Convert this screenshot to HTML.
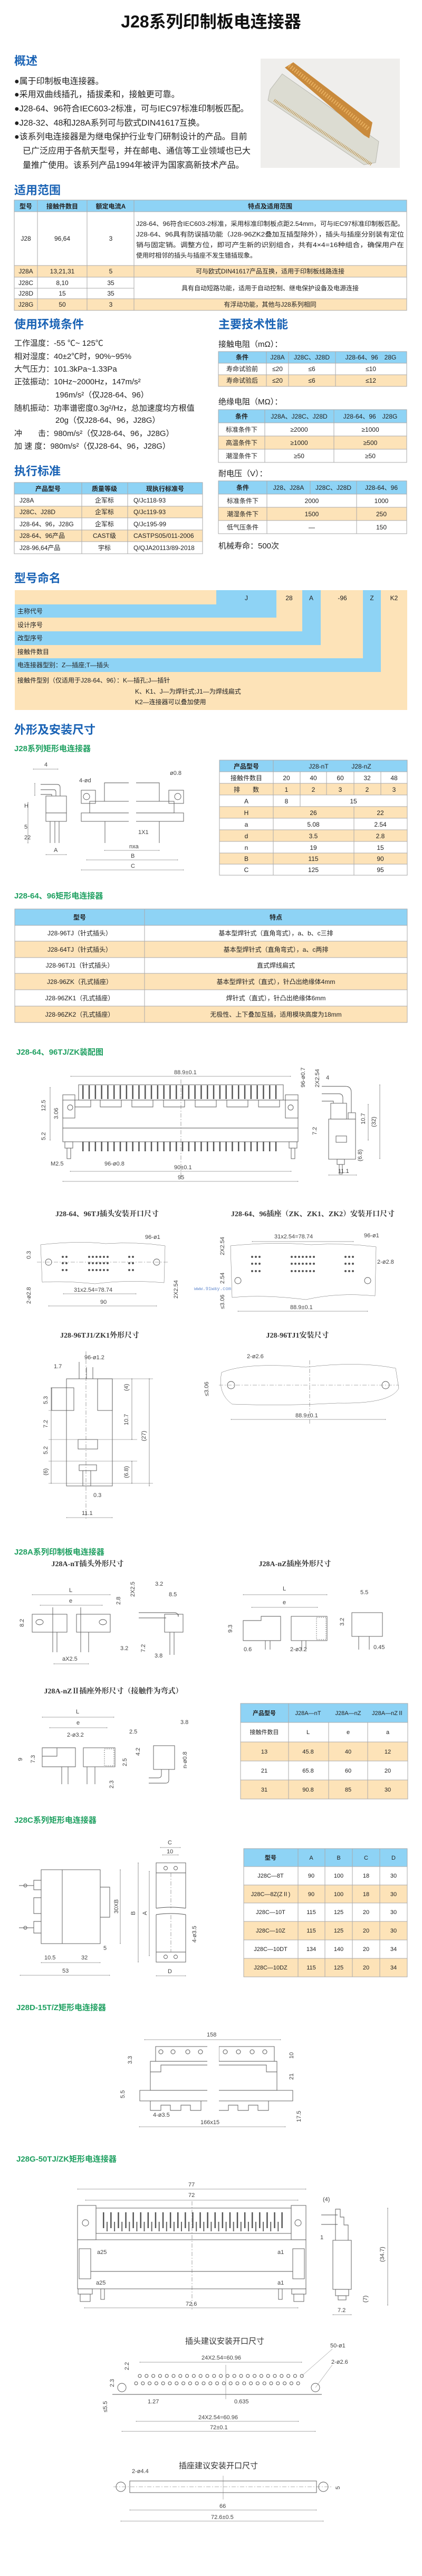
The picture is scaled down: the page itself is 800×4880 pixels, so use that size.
<!DOCTYPE html>
<html><head><meta charset="utf-8"><style>
html,body{margin:0;padding:0;background:#fff;}
svg{display:block;}
text{font-family:"Liberation Sans","Noto Sans CJK SC",sans-serif;}
.h{font-size:22px;font-weight:bold;fill:#1a63b5;}
.g{font-size:15px;font-weight:bold;fill:#1fa061;}
.b{font-size:16px;fill:#222;}
.t{font-size:12px;fill:#222;}
.c{font-size:13px;fill:#222;font-weight:bold;}
.m{font-size:11px;fill:#444;}
.L{stroke:#555;stroke-width:0.9;fill:none;}
.D{stroke:#555;stroke-width:0.6;fill:none;marker-start:url(#a);marker-end:url(#a);}
.E{stroke:#666;stroke-width:0.5;fill:none;}
.K{stroke:#666;stroke-width:0.6;fill:none;stroke-dasharray:8 3 2 3;}
.bl{fill:#8ed3f5;}
.or{fill:#fde3b8;}
.gr{stroke:#aaa;stroke-width:1;fill:none;}
</style></head><body>
<svg width="800" height="4880" viewBox="0 0 800 4880" xmlns="http://www.w3.org/2000/svg">
<defs>
<marker id="a" viewBox="0 0 10 10" refX="5" refY="5" markerWidth="4" markerHeight="4" orient="auto-start-reverse"><path d="M0,2 L10,5 L0,8z" fill="#555"/></marker>
</defs>
<rect width="800" height="4880" fill="#fff"/>

<!-- Title -->
<text x="400" y="52" text-anchor="middle" style="font-size:32px;font-weight:bold;fill:#111;">J28系列印制板电连接器</text>

<!-- 概述 -->
<text x="27" y="123" class="h">概述</text>
<g class="b">
<text x="27" y="159">●属于印制板电连接器。</text>
<text x="27" y="184">●采用双曲线插孔，插拔柔和，接触更可靠。</text>
<text x="27" y="211">●J28-64、96符合IEC603-2标准，可与IEC97标准印制板匹配。</text>
<text x="27" y="238">●J28-32、48和J28A系列可与欧式DIN41617互换。</text>
<text x="27" y="264">●该系列电连接器是为继电保护行业专门研制设计的产品。目前</text>
<text x="43" y="291">已广泛应用于各航天型号，并在邮电、通信等工业领域也已大</text>
<text x="43" y="318">量推广使用。该系列产品1994年被评为国家高新技术产品。</text>
</g>
<!-- photo -->
<rect x="494" y="111" width="264" height="207" fill="#efeeec"/>
<polygon points="512,170 535,140 718,268 712,308 690,312 508,190" fill="#dcdcd2" stroke="#b8b8b0"/>
<polygon points="540,128 556,118 706,232 700,262 690,256" fill="#c98a3c"/>
<line x1="548" y1="124" x2="700" y2="245" stroke="#e8b060" stroke-width="8" stroke-dasharray="2 3"/>
<line x1="520" y1="190" x2="705" y2="312" stroke="#b88a3c" stroke-width="6" stroke-dasharray="1 2"/>

<!-- 适用范围 -->
<text x="27" y="368" class="h">适用范围</text>
<rect x="27" y="379" width="744" height="22" class="bl"/>
<rect x="27" y="503" width="744" height="22" class="or"/>
<rect x="27" y="566" width="744" height="22" class="or"/>
<g class="gr">
<rect x="27" y="379" width="744" height="209"/>
<line x1="27" y1="401" x2="771" y2="401"/><line x1="27" y1="503" x2="771" y2="503"/>
<line x1="27" y1="525" x2="771" y2="525"/><line x1="27" y1="546" x2="254" y2="546"/>
<line x1="27" y1="566" x2="771" y2="566"/>
<line x1="71" y1="379" x2="71" y2="588"/><line x1="165" y1="379" x2="165" y2="588"/><line x1="254" y1="379" x2="254" y2="588"/>
</g>
<g class="t" text-anchor="middle">
<text x="49" y="395" class="c" style="font-size:12px">型号</text><text x="118" y="395" class="c" style="font-size:12px">接触件数目</text><text x="210" y="395" class="c" style="font-size:12px">额定电流A</text><text x="512" y="395" class="c" style="font-size:12px">特点及适用范围</text>
<text x="49" y="456">J28</text><text x="118" y="456">96,64</text><text x="210" y="456">3</text>
<text x="49" y="518">J28A</text><text x="118" y="518">13,21,31</text><text x="210" y="518">5</text><text x="512" y="518">可与欧式DIN41617产品互换，适用于印制板线路连接</text>
<text x="49" y="540">J28C</text><text x="118" y="540">8,10</text><text x="210" y="540">35</text>
<text x="49" y="560">J28D</text><text x="118" y="560">15</text><text x="210" y="560">35</text>
<text x="512" y="550">具有自动短路功能，适用于自动控制、继电保护设备及电源连接</text>
<text x="49" y="581">J28G</text><text x="118" y="581">50</text><text x="210" y="581">3</text><text x="512" y="581">有浮动功能，其他与J28系列相同</text>
</g>
<g class="t">
<text x="258" y="428" textLength="508" lengthAdjust="spacingAndGlyphs">J28-64、96符合IEC603-2标准，采用标准印制板点距2.54mm，可与IEC97标准印制板匹配。</text>
<text x="258" y="448" textLength="508" lengthAdjust="spacingAndGlyphs">J28-64、96具有防误插功能（J28-96ZK2叠加互插型除外），插头与插座分别装有定位</text>
<text x="258" y="468" textLength="508" lengthAdjust="spacingAndGlyphs">销与固定销。调整方位，即可产生新的识别组合，共有4×4=16种组合，确保用户在</text>
<text x="258" y="488">使用时相邻的插头与插座不发生错插现象。</text>
</g>

<!-- 使用环境条件 -->
<text x="27" y="622" class="h">使用环境条件</text>
<text x="414" y="622" class="h">主要技术性能</text>
<g class="b" style="font-size:15px">
<text x="27" y="655">工作温度：-55 ℃~ 125℃</text>
<text x="27" y="680">相对湿度：40±2℃时，90%~95%</text>
<text x="27" y="704">大气压力：101.3kPa~1.33Pa</text>
<text x="27" y="728">正弦振动：10Hz~2000Hz，147m/s²</text>
<text x="105" y="753">196m/s²（仅J28-64、96）</text>
<text x="27" y="778">随机振动：功率谱密度0.3g²/Hz，总加速度均方根值</text>
<text x="105" y="801">20g（仅J28-64、96，J28G）</text>
<text x="27" y="826">冲　　击：980m/s²（仅J28-64、96，J28G）</text>
<text x="27" y="850">加 速 度：980m/s²（仅J28-64、96，J28G）</text>
<text x="414" y="657">接触电阻（mΩ）：</text>
<text x="414" y="766">绝缘电阻（MΩ）：</text>
<text x="414" y="902">耐电压（V）：</text>
<text x="414" y="1039">机械寿命：500次</text>
</g>
<!-- tech table 1 -->
<rect x="414" y="666" width="357" height="22" class="bl"/>
<rect x="414" y="710" width="357" height="22" class="or"/>
<g class="gr"><rect x="414" y="666" width="357" height="66"/>
<line x1="414" y1="688" x2="771" y2="688"/><line x1="414" y1="710" x2="771" y2="710"/>
<line x1="505" y1="666" x2="505" y2="732"/><line x1="547" y1="666" x2="547" y2="732"/><line x1="636" y1="666" x2="636" y2="732"/></g>
<g class="t" text-anchor="middle">
<text x="459" y="681" class="c" style="font-size:12px">条件</text><text x="526" y="681">J28A</text><text x="591" y="681">J28C、J28D</text><text x="703" y="681">J28-64、96　28G</text>
<text x="459" y="703">寿命试验前</text><text x="526" y="703">≤20</text><text x="591" y="703">≤6</text><text x="703" y="703">≤10</text>
<text x="459" y="725">寿命试验后</text><text x="526" y="725">≤20</text><text x="591" y="725">≤6</text><text x="703" y="725">≤12</text>
</g>
<!-- tech table 2 -->
<rect x="414" y="776" width="357" height="25" class="bl"/>
<rect x="414" y="826" width="357" height="25" class="or"/>
<g class="gr"><rect x="414" y="776" width="357" height="100"/>
<line x1="414" y1="801" x2="771" y2="801"/><line x1="414" y1="826" x2="771" y2="826"/><line x1="414" y1="851" x2="771" y2="851"/>
<line x1="502" y1="776" x2="502" y2="876"/><line x1="633" y1="776" x2="633" y2="876"/></g>
<g class="t" text-anchor="middle">
<text x="458" y="793" class="c" style="font-size:12px">条件</text><text x="567" y="793">J28A、J28C、J28D</text><text x="702" y="793">J28-64、96　J28G</text>
<text x="458" y="818">标准条件下</text><text x="567" y="818">≥2000</text><text x="702" y="818">≥1000</text>
<text x="458" y="843">高温条件下</text><text x="567" y="843">≥1000</text><text x="702" y="843">≥500</text>
<text x="458" y="868">潮湿条件下</text><text x="567" y="868">≥50</text><text x="702" y="868">≥50</text>
</g>
<!-- tech table 3 -->
<rect x="414" y="911" width="357" height="25" class="bl"/>
<rect x="414" y="961" width="357" height="25" class="or"/>
<g class="gr"><rect x="414" y="911" width="357" height="100"/>
<line x1="414" y1="936" x2="771" y2="936"/><line x1="414" y1="961" x2="771" y2="961"/><line x1="414" y1="986" x2="771" y2="986"/>
<line x1="506" y1="911" x2="506" y2="1011"/><line x1="588" y1="911" x2="588" y2="936"/><line x1="676" y1="911" x2="676" y2="1011"/></g>
<g class="t" text-anchor="middle">
<text x="460" y="928" class="c" style="font-size:12px">条件</text><text x="547" y="928">J28、J28A</text><text x="632" y="928">J28C、J28D</text><text x="723" y="928">J28-64、96</text>
<text x="460" y="953">标准条件下</text><text x="591" y="953">2000</text><text x="723" y="953">1000</text>
<text x="460" y="978">潮湿条件下</text><text x="591" y="978">1500</text><text x="723" y="978">250</text>
<text x="460" y="1003">低气压条件</text><text x="591" y="1003">—</text><text x="723" y="1003">150</text>
</g>

<!-- 执行标准 -->
<text x="27" y="900" class="h">执行标准</text>
<rect x="27" y="914" width="357" height="22" class="bl"/>
<rect x="27" y="959" width="357" height="22" class="or"/>
<rect x="27" y="1004" width="357" height="22" class="or"/>
<g class="gr"><rect x="27" y="914" width="357" height="135"/>
<line x1="27" y1="936" x2="384" y2="936"/><line x1="27" y1="959" x2="384" y2="959"/><line x1="27" y1="981" x2="384" y2="981"/><line x1="27" y1="1004" x2="384" y2="1004"/><line x1="27" y1="1026" x2="384" y2="1026"/>
<line x1="155" y1="914" x2="155" y2="1049"/><line x1="242" y1="914" x2="242" y2="1049"/></g>
<g class="t">
<text x="91" y="930" text-anchor="middle" class="c" style="font-size:12px">产品型号</text><text x="198" y="930" text-anchor="middle" class="c" style="font-size:12px">质量等级</text><text x="313" y="930" text-anchor="middle" class="c" style="font-size:12px">现执行标准号</text>
<text x="37" y="952">J28A</text><text x="198" y="952" text-anchor="middle">企军标</text><text x="253" y="952">Q/Jc118-93</text>
<text x="37" y="974">J28C、J28D</text><text x="198" y="974" text-anchor="middle">企军标</text><text x="253" y="974">Q/Jc119-93</text>
<text x="37" y="997">J28-64、96，J28G</text><text x="198" y="997" text-anchor="middle">企军标</text><text x="253" y="997">Q/Jc195-99</text>
<text x="37" y="1019">J28-64、96产品</text><text x="198" y="1019" text-anchor="middle">CAST级</text><text x="253" y="1019">CASTPS05/011-2006</text>
<text x="37" y="1042">J28-96,64产品</text><text x="198" y="1042" text-anchor="middle">宇标</text><text x="253" y="1042">Q/QJA20113/89-2018</text>
</g>

<!-- 型号命名 -->
<text x="27" y="1103" class="h">型号命名</text>
<rect x="28" y="1118" width="744" height="227" class="or"/>
<rect x="410" y="1118" width="114" height="52" class="bl"/>
<rect x="28" y="1145" width="496" height="25" class="bl"/>
<rect x="573" y="1118" width="35" height="104" class="bl"/>
<rect x="28" y="1196" width="580" height="26" class="bl"/>
<rect x="688" y="1118" width="34" height="155" class="bl"/>
<rect x="28" y="1247" width="694" height="26" class="bl"/>
<g class="t" text-anchor="middle">
<text x="467" y="1137">J</text><text x="548" y="1137">28</text><text x="590" y="1137">A</text><text x="649" y="1137">-96</text><text x="705" y="1137">Z</text><text x="747" y="1137">K2</text>
</g>
<g class="t">
<text x="33" y="1162">主称代号</text><text x="33" y="1188">设计序号</text><text x="33" y="1213">改型序号</text><text x="33" y="1239">接触件数目</text>
<text x="33" y="1264">电连接器型别：Z—插座;T—插头</text>
<text x="33" y="1293">接触件型别（仅适用于J28-64、96）：K—插孔;J—插针</text>
<text x="256" y="1314">K、K1、J—为焊针式;J1—为焊线扁式</text>
<text x="256" y="1334">K2—连接器可以叠加使用</text>
</g>

<!-- 外形及安装尺寸 -->
<text x="27" y="1390" class="h">外形及安装尺寸</text>
<text x="27" y="1423" class="g">J28系列矩形电连接器</text>
<!-- drawing 1 -->
<g>
<rect x="87" y="1508" width="39" height="48" class="L"/>
<line x1="87" y1="1540" x2="126" y2="1540" class="L"/>
<path d="M77,1486 H108 Q114,1486 114,1492 V1508 M77,1496 H102 Q106,1496 106,1500 V1508 M77,1505 H98 V1508" class="L"/>
<line x1="95" y1="1556" x2="95" y2="1597" class="L"/><line x1="104" y1="1556" x2="104" y2="1597" class="L"/><line x1="112" y1="1556" x2="112" y2="1597" class="L"/>
<line x1="53" y1="1520" x2="53" y2="1597" class="D"/>
<line x1="66" y1="1484" x2="66" y2="1507" class="D"/>
<line x1="87" y1="1619" x2="126" y2="1619" class="D"/>
<line x1="63" y1="1457" x2="110" y2="1457" class="D"/>
<text x="84" y="1452" class="m">4</text><text x="102" y="1614" class="m">A</text>
<text x="46" y="1570" class="m">5</text><text x="46" y="1590" class="m">22</text><text x="46" y="1530" class="m">H</text>
<rect x="154" y="1497" width="27" height="25" class="L"/><circle cx="164" cy="1509" r="6" class="L"/>
<rect x="320" y="1497" width="28" height="25" class="L"/><circle cx="337" cy="1509" r="6" class="L"/>
<rect x="170" y="1518" width="160" height="22" class="L"/>
<rect x="154" y="1540" width="194" height="16" class="L"/>
<path d="M198,1518 V1483 H302 V1518" class="L"/>
<line x1="199" y1="1556" x2="199" y2="1597" class="L"/><line x1="302" y1="1556" x2="302" y2="1597" class="L"/>
<rect x="244" y="1480" width="14" height="80" fill="#fff"/>
<text x="150" y="1482" class="m">4-ød</text><text x="322" y="1468" class="m">ø0.8</text><text x="262" y="1580" class="m">1X1</text>
<line x1="198" y1="1611" x2="302" y2="1611" class="D"/><text x="245" y="1607" class="m">nxa</text>
<line x1="164" y1="1629" x2="337" y2="1629" class="D"/><text x="248" y="1625" class="m">B</text>
<line x1="154" y1="1648" x2="348" y2="1648" class="D"/><text x="248" y="1644" class="m">C</text>
</g>
<!-- table J28 -->
<rect x="416" y="1440" width="356" height="22" class="bl"/>
<rect x="416" y="1484" width="356" height="22" class="or"/>
<rect x="416" y="1528" width="356" height="22" class="or"/>
<rect x="416" y="1572" width="356" height="22" class="or"/>
<rect x="416" y="1616" width="356" height="21" class="or"/>
<g class="gr"><rect x="416" y="1440" width="356" height="218"/>
<line x1="416" y1="1462" x2="772" y2="1462"/><line x1="416" y1="1484" x2="772" y2="1484"/><line x1="416" y1="1506" x2="772" y2="1506"/><line x1="416" y1="1528" x2="772" y2="1528"/><line x1="416" y1="1550" x2="772" y2="1550"/><line x1="416" y1="1572" x2="772" y2="1572"/><line x1="416" y1="1594" x2="772" y2="1594"/><line x1="416" y1="1616" x2="772" y2="1616"/><line x1="416" y1="1637" x2="772" y2="1637"/>
<line x1="518" y1="1440" x2="518" y2="1658"/><line x1="569" y1="1462" x2="569" y2="1528"/><line x1="619" y1="1462" x2="619" y2="1506"/><line x1="671" y1="1462" x2="671" y2="1506"/><line x1="671" y1="1528" x2="671" y2="1658"/><line x1="722" y1="1462" x2="722" y2="1506"/></g>
<g class="t" text-anchor="middle">
<text x="467" y="1456" class="c" style="font-size:12px">产品型号</text><text x="604" y="1456">J28-nT</text><text x="685" y="1456">J28-nZ</text>
<text x="467" y="1478">接触件数目</text><text x="543" y="1478">20</text><text x="594" y="1478">40</text><text x="645" y="1478">60</text><text x="696" y="1478">32</text><text x="747" y="1478">48</text>
<text x="467" y="1500">排　　数</text><text x="543" y="1500">1</text><text x="594" y="1500">2</text><text x="645" y="1500">3</text><text x="696" y="1500">2</text><text x="747" y="1500">3</text>
<text x="467" y="1522">A</text><text x="543" y="1522">8</text><text x="670" y="1522">15</text>
<text x="467" y="1544">H</text><text x="594" y="1544">26</text><text x="721" y="1544">22</text>
<text x="467" y="1566">a</text><text x="594" y="1566">5.08</text><text x="721" y="1566">2.54</text>
<text x="467" y="1588">d</text><text x="594" y="1588">3.5</text><text x="721" y="1588">2.8</text>
<text x="467" y="1610">n</text><text x="594" y="1610">19</text><text x="721" y="1610">15</text>
<text x="467" y="1631">B</text><text x="594" y="1631">115</text><text x="721" y="1631">90</text>
<text x="467" y="1652">C</text><text x="594" y="1652">125</text><text x="721" y="1652">95</text>
</g>

<!-- J28-64,96 -->
<text x="27" y="1702" class="g">J28-64、96矩形电连接器</text>
<rect x="28" y="1722" width="744" height="31" class="bl"/>
<rect x="28" y="1783" width="744" height="31" class="or"/>
<rect x="28" y="1844" width="744" height="31" class="or"/>
<rect x="28" y="1906" width="744" height="31" class="or"/>
<g class="gr"><rect x="28" y="1722" width="744" height="215"/>
<line x1="28" y1="1753" x2="772" y2="1753"/><line x1="28" y1="1783" x2="772" y2="1783"/><line x1="28" y1="1814" x2="772" y2="1814"/><line x1="28" y1="1844" x2="772" y2="1844"/><line x1="28" y1="1875" x2="772" y2="1875"/><line x1="28" y1="1906" x2="772" y2="1906"/>
<line x1="274" y1="1722" x2="274" y2="1937"/></g>
<g class="t" text-anchor="middle">
<text x="151" y="1742" class="c" style="font-size:12px">型号</text><text x="523" y="1742" class="c" style="font-size:12px">特点</text>
<text x="151" y="1772">J28-96TJ（针式插头）</text><text x="523" y="1772">基本型焊针式（直角弯式），a、b、c三排</text>
<text x="151" y="1803">J28-64TJ（针式插头）</text><text x="523" y="1803">基本型焊针式（直角弯式），a、c两排</text>
<text x="151" y="1833">J28-96TJ1（针式插头）</text><text x="523" y="1833">直式焊线扁式</text>
<text x="151" y="1864">J28-96ZK（孔式插座）</text><text x="523" y="1864">基本型焊针式（直式），针凸出绝缘体4mm</text>
<text x="151" y="1895">J28-96ZK1（孔式插座）</text><text x="523" y="1895">焊针式（直式），针凸出绝缘体6mm</text>
<text x="151" y="1926">J28-96ZK2（孔式插座）</text><text x="523" y="1926">无极性、上下叠加互插，适用模块高度为18mm</text>
</g>

<text x="31" y="1998" class="g">J28-64、96TJ/ZK装配图</text>
<!-- drawing 2 -->
<g>
<rect x="149" y="2055" width="388" height="29" class="L"/>
<line x1="156" y1="2069" x2="532" y2="2069" stroke="#555" stroke-width="26" stroke-dasharray="2.5 9.3"/>
<rect x="119" y="2084" width="446" height="79" class="L"/>
<line x1="119" y1="2137" x2="565" y2="2137" class="L"/>
<rect x="119" y="2074" width="23" height="44" class="L"/><circle cx="133" cy="2098" r="5" class="L"/>
<rect x="541" y="2074" width="24" height="44" class="L"/><circle cx="551" cy="2098" r="5" class="L"/>
<path d="M142,2084 v13 h30 v-13 M190,2084 v13 h40 v-13 M250,2084 v13 h40 v-13 M310,2084 v13 h40 v-13 M370,2084 v13 h40 v-13 M430,2084 v13 h40 v-13 M490,2084 v13 h40 v-13" class="L"/>
<line x1="156" y1="2172" x2="532" y2="2172" stroke="#555" stroke-width="18" stroke-dasharray="2.5 9.3"/>
<rect x="123" y="2163" width="15" height="12" class="L"/><rect x="127" y="2175" width="7" height="20" class="L"/>
<rect x="548" y="2163" width="15" height="12" class="L"/><rect x="552" y="2175" width="7" height="20" class="L"/>
<line x1="343" y1="2045" x2="343" y2="2235" class="K"/>
<line x1="134" y1="2039" x2="551" y2="2039" class="D"/><text x="330" y="2035" class="m">88.9±0.1</text>
<line x1="133" y1="2219" x2="552" y2="2219" class="D"/><text x="330" y="2215" class="m">90±0.1</text>
<line x1="119" y1="2238" x2="565" y2="2238" class="D"/><text x="337" y="2234" class="m">95</text>
<text x="96" y="2208" class="m">M2.5</text><text x="198" y="2208" class="m">96-ø0.8</text>
<line x1="95" y1="2060" x2="95" y2="2160" class="D"/>
<text x="86" y="2105" class="m" transform="rotate(-90 86 2105)">12.5</text>
<text x="110" y="2120" class="m" transform="rotate(-90 110 2120)">3.06</text>
<text x="86" y="2160" class="m" transform="rotate(-90 86 2160)">5.2</text>
<!-- side -->
<rect x="623" y="2120" width="51" height="76" class="L"/>
<rect x="627" y="2090" width="30" height="30" class="L"/>
<rect x="660" y="2108" width="14" height="12" class="L"/>
<rect x="637" y="2152" width="20" height="12" class="L"/>
<path d="M610,2058 H655 Q666,2058 666,2070 V2108 M610,2072 H642 Q650,2072 650,2080 V2090 M610,2086 H632 V2090" class="L"/>
<rect x="639" y="2196" width="14" height="10" class="L"/><rect x="643" y="2206" width="6" height="18" class="L"/>
<line x1="720" y1="2055" x2="720" y2="2195" class="D"/><text x="712" y="2135" class="m" transform="rotate(-90 712 2135)">(32)</text>
<line x1="698" y1="2092" x2="698" y2="2160" class="D"/><text x="692" y="2130" class="m" transform="rotate(-90 692 2130)">10.7</text>
<text x="686" y="2200" class="m" transform="rotate(-90 686 2200)">(6.8)</text>
<line x1="623" y1="2226" x2="676" y2="2226" class="D"/><text x="641" y="2222" class="m">11.1</text>
<text x="618" y="2045" class="m">4</text>
<text x="578" y="2060" class="m" transform="rotate(-90 578 2060)">96-ø0.7</text>
<text x="605" y="2060" class="m" transform="rotate(-90 605 2060)">2X2.54</text>
<text x="600" y="2150" class="m" transform="rotate(-90 600 2150)">7.2</text>
<text x="634" y="2309" class="m"></text>
</g>

<!-- cutouts -->
<g style="font-family:'Liberation Serif','Noto Serif CJK SC',serif;font-size:14px;font-weight:bold;fill:#333" text-anchor="middle">
<text x="203" y="2304" style="font-family:'Liberation Serif','Noto Serif CJK SC',serif">J28-64、96TJ插头安装开口尺寸</text>
<text x="593" y="2304" style="font-family:'Liberation Serif','Noto Serif CJK SC',serif">J28-64、96插座（ZK、ZK1、ZK2）安装开口尺寸</text>
<text x="189" y="2534" style="font-family:'Liberation Serif','Noto Serif CJK SC',serif">J28-96TJ1/ZK1外形尺寸</text>
<text x="564" y="2534" style="font-family:'Liberation Serif','Noto Serif CJK SC',serif">J28-96TJ1安装尺寸</text>
<text x="166" y="2967" style="font-family:'Liberation Serif','Noto Serif CJK SC',serif">J28A-nT插头外形尺寸</text>
<text x="559" y="2967" style="font-family:'Liberation Serif','Noto Serif CJK SC',serif">J28A-nZ插座外形尺寸</text>
<text x="215" y="3208" style="font-family:'Liberation Serif','Noto Serif CJK SC',serif">J28A-nZⅡ插座外形尺寸（接触件为弯式）</text>
</g>
<g>
<path d="M77,2358 Q150,2350 200,2356 Q260,2352 313,2360 L311,2430 Q240,2424 180,2432 Q120,2426 80,2429 Z" class="E"/>
<g stroke="#555" stroke-width="4" stroke-linecap="round" stroke-dasharray="0 7">
<line x1="119" y1="2381" x2="133" y2="2381"/><line x1="119" y1="2393" x2="133" y2="2393"/><line x1="119" y1="2406" x2="133" y2="2406"/>
<line x1="169" y1="2381" x2="210" y2="2381"/><line x1="169" y1="2393" x2="210" y2="2393"/><line x1="169" y1="2406" x2="210" y2="2406"/>
<line x1="245" y1="2381" x2="259" y2="2381"/><line x1="245" y1="2393" x2="259" y2="2393"/><line x1="245" y1="2406" x2="259" y2="2406"/>
</g>
<circle cx="92" cy="2391" r="6" class="L"/><circle cx="297" cy="2391" r="6" class="L"/>
<line x1="70" y1="2391" x2="320" y2="2391" class="K"/>
<line x1="120" y1="2451" x2="258" y2="2451" class="D"/><text x="140" y="2447" class="m">31x2.54=78.74</text>
<line x1="92" y1="2474" x2="297" y2="2474" class="D"/><text x="190" y="2470" class="m">90</text>
<text x="275" y="2347" class="m">96-ø1</text>
<text x="58" y="2470" class="m" transform="rotate(-90 58 2470)">2-ø2.8</text>
<text x="58" y="2385" class="m" transform="rotate(-90 58 2385)">0.3</text>
<text x="337" y="2460" class="m" transform="rotate(-90 337 2460)">2X2.54</text>

<path d="M437,2360 Q520,2352 590,2358 Q650,2354 713,2362 L711,2455 Q640,2448 580,2462 Q500,2452 440,2458 Z" class="E"/>
<g stroke="#555" stroke-width="4" stroke-linecap="round" stroke-dasharray="0 7">
<line x1="478" y1="2381" x2="493" y2="2381"/><line x1="478" y1="2394" x2="493" y2="2394"/><line x1="478" y1="2408" x2="493" y2="2408"/>
<line x1="553" y1="2381" x2="596" y2="2381"/><line x1="553" y1="2394" x2="596" y2="2394"/><line x1="553" y1="2408" x2="596" y2="2408"/>
<line x1="655" y1="2381" x2="670" y2="2381"/><line x1="655" y1="2394" x2="670" y2="2394"/><line x1="655" y1="2408" x2="670" y2="2408"/>
</g>
<circle cx="451" cy="2426" r="6" class="L"/><circle cx="697" cy="2426" r="6" class="L"/>
<line x1="478" y1="2352" x2="670" y2="2352" class="D"/><text x="520" y="2346" class="m">31x2.54=78.74</text>
<line x1="451" y1="2484" x2="697" y2="2484" class="D"/><text x="550" y="2480" class="m">88.9±0.1</text>
<text x="690" y="2344" class="m">96-ø1</text><text x="715" y="2394" class="m">2-ø2.8</text>
<text x="425" y="2378" class="m" transform="rotate(-90 425 2378)">2X2.54</text>
<text x="425" y="2432" class="m" transform="rotate(-90 425 2432)">2.54</text>
<text x="425" y="2480" class="m" transform="rotate(-90 425 2480)">≤3.06</text>
<text x="368" y="2444" style="font-size:9px;fill:#6a8fd0;font-family:'Liberation Mono',monospace">www.91way.com</text>
</g>

<!-- TJ1/ZK1 -->
<g>
<rect x="126" y="2612" width="87" height="203" class="L"/>
<rect x="98" y="2629" width="42" height="43" class="L"/>
<rect x="185" y="2612" width="28" height="60" class="L"/>
<rect x="148" y="2727" width="37" height="18" class="L"/>
<rect x="150" y="2775" width="33" height="11" class="L"/><rect x="157" y="2786" width="15" height="29" class="L"/>
<line x1="150" y1="2580" x2="150" y2="2612" class="L"/><line x1="164" y1="2590" x2="164" y2="2612" class="L"/><line x1="176" y1="2590" x2="176" y2="2612" class="L"/>
<line x1="163" y1="2560" x2="163" y2="2880" class="K"/>
<line x1="97" y1="2629" x2="97" y2="2810" class="D"/>
<g class="E"><line x1="92" y1="2672" x2="126" y2="2672"/><line x1="92" y1="2727" x2="260" y2="2727"/><line x1="92" y1="2768" x2="260" y2="2768"/><line x1="92" y1="2810" x2="290" y2="2810"/><line x1="213" y1="2612" x2="290" y2="2612"/></g>
<text x="90" y="2660" class="m" transform="rotate(-90 90 2660)">5.3</text>
<text x="90" y="2705" class="m" transform="rotate(-90 90 2705)">7.2</text>
<text x="90" y="2755" class="m" transform="rotate(-90 90 2755)">5.2</text>
<text x="90" y="2795" class="m" transform="rotate(-90 90 2795)">(6)</text>
<line x1="250" y1="2612" x2="250" y2="2727" class="D"/><line x1="250" y1="2768" x2="250" y2="2810" class="D"/>
<text x="243" y="2635" class="m" transform="rotate(-90 243 2635)">(4)</text>
<text x="243" y="2700" class="m" transform="rotate(-90 243 2700)">10.7</text>
<text x="243" y="2800" class="m" transform="rotate(-90 243 2800)">(6.8)</text>
<line x1="283" y1="2612" x2="283" y2="2815" class="D"/><text x="276" y="2730" class="m" transform="rotate(-90 276 2730)">(27)</text>
<line x1="126" y1="2875" x2="213" y2="2875" class="D"/><text x="155" y="2870" class="m">11.1</text>
<text x="177" y="2836" class="m">0.3</text><text x="160" y="2575" class="m">96-ø1.2</text><text x="102" y="2592" class="m">1.7</text>
</g>
<!-- TJ1 install -->
<g>
<path d="M420,2600 Q470,2580 580,2590 Q680,2578 750,2592 L756,2630 Q740,2660 640,2658 Q540,2664 440,2660 Q412,2640 420,2600 Z" class="E"/>
<circle cx="438" cy="2624" r="7" class="L"/><circle cx="731" cy="2624" r="7" class="L"/>
<line x1="415" y1="2624" x2="756" y2="2624" class="K"/><line x1="587" y1="2577" x2="587" y2="2700" class="K"/>
<line x1="438" y1="2689" x2="731" y2="2689" class="D"/><text x="560" y="2685" class="m">88.9±0.1</text>
<text x="468" y="2573" class="m">2-ø2.6</text>
<text x="395" y="2645" class="m" transform="rotate(-90 395 2645)">≤3.06</text>
</g>

<!-- J28A -->
<text x="27" y="2945" class="g">J28A系列印制板电连接器</text>
<g>
<line x1="61" y1="3021" x2="209" y2="3021" class="D"/><text x="131" y="3016" class="m">L</text>
<line x1="76" y1="3041" x2="194" y2="3041" class="D"/><text x="131" y="3036" class="m">e</text>
<rect x="61" y="3058" width="66" height="34" class="L"/><ellipse cx="75" cy="3073" rx="7" ry="5" class="L"/>
<rect x="145" y="3058" width="64" height="34" class="L"/><ellipse cx="195" cy="3073" rx="7" ry="5" class="L"/>
<line x1="100" y1="3045" x2="100" y2="3130" class="L"/><line x1="108" y1="3092" x2="108" y2="3130" class="L"/><line x1="153" y1="3045" x2="153" y2="3130" class="L"/><line x1="168" y1="3092" x2="168" y2="3130" class="L"/>
<rect x="312" y="3058" width="35" height="34" class="L"/>
<path d="M263,3055 H330 Q338,3055 338,3063 V3058 M263,3065 H315" class="L"/>
<line x1="322" y1="3092" x2="322" y2="3135" class="L"/><line x1="330" y1="3092" x2="330" y2="3135" class="L"/>
<text x="294" y="3004" class="m">3.2</text><text x="320" y="3024" class="m">8.5</text>
<text x="255" y="3025" class="m" transform="rotate(-90 255 3025)">2X2.5</text>
<text x="228" y="3040" class="m" transform="rotate(-90 228 3040)">2.8</text>
<text x="45" y="3082" class="m" transform="rotate(-90 45 3082)">8.2</text>
<text x="275" y="3130" class="m" transform="rotate(-90 275 3130)">7.2</text>
<line x1="102" y1="3152" x2="168" y2="3152" class="D"/><text x="118" y="3146" class="m">aX2.5</text>
<text x="228" y="3126" class="m">3.2</text><text x="293" y="3140" class="m">3.8</text>

<line x1="461" y1="3021" x2="620" y2="3021" class="D"/><text x="536" y="3013" class="m">L</text>
<line x1="477" y1="3045" x2="602" y2="3045" class="D"/><text x="536" y="3039" class="m">e</text>
<path d="M461,3070 H495 V3062 H532 V3108 H461 Z" class="L"/>
<rect x="552" y="3062" width="68" height="46" class="L"/><rect x="600" y="3064" width="18" height="42" fill="none" stroke="#777" stroke-dasharray="2 2"/>
<line x1="503" y1="3108" x2="503" y2="3125" class="L"/><line x1="512" y1="3108" x2="512" y2="3125" class="L"/><line x1="572" y1="3108" x2="572" y2="3125" class="L"/><line x1="580" y1="3108" x2="580" y2="3125" class="L"/>
<rect x="667" y="3055" width="58" height="45" class="L"/>
<line x1="680" y1="3100" x2="680" y2="3125" class="L"/><line x1="700" y1="3100" x2="700" y2="3125" class="L"/>
<text x="683" y="3020" class="m">5.5</text>
<text x="440" y="3093" class="m" transform="rotate(-90 440 3093)">9.3</text>
<text x="652" y="3080" class="m" transform="rotate(-90 652 3080)">3.2</text>
<text x="462" y="3128" class="m">0.6</text><text x="550" y="3128" class="m">2-ø3.2</text><text x="708" y="3124" class="m">0.45</text>
</g>
<!-- nZII -->
<g>
<line x1="80" y1="3253" x2="216" y2="3253" class="D"/><text x="144" y="3246" class="m">L</text>
<line x1="94" y1="3273" x2="203" y2="3273" class="D"/><text x="145" y="3267" class="m">e</text>
<text x="127" y="3290" class="m">2-ø3.2</text>
<path d="M80,3311 H108 V3311 H143 V3347 H80 Z M80,3327 H108 V3311" class="L"/>
<rect x="158" y="3311" width="60" height="36" class="L"/><rect x="198" y="3313" width="18" height="32" fill="none" stroke="#777" stroke-dasharray="2 2"/>
<line x1="117" y1="3347" x2="117" y2="3380" class="L"/><line x1="129" y1="3347" x2="129" y2="3380" class="L"/><line x1="165" y1="3347" x2="165" y2="3380" class="L"/><line x1="180" y1="3347" x2="180" y2="3380" class="L"/>
<rect x="291" y="3307" width="40" height="45" class="L"/>
<path d="M282,3368 H300 Q306,3368 306,3362 V3352 M282,3378 H314 Q320,3378 320,3372 V3352" class="L"/>
<text x="245" y="3284" class="m">2.5</text><text x="342" y="3266" class="m">3.8</text>
<text x="42" y="3336" class="m" transform="rotate(-90 42 3336)">9</text>
<text x="66" y="3340" class="m" transform="rotate(-90 66 3340)">7.3</text>
<text x="265" y="3326" class="m" transform="rotate(-90 265 3326)">4.2</text>
<text x="240" y="3346" class="m" transform="rotate(-90 240 3346)">2.5</text>
<text x="215" y="3388" class="m" transform="rotate(-90 215 3388)">2.3</text>
<text x="354" y="3350" class="m" transform="rotate(-90 354 3350)">n-ø0.8</text>
</g>
<!-- J28A table -->
<rect x="456" y="3227" width="317" height="36" class="bl"/>
<rect x="456" y="3300" width="317" height="36" class="or"/>
<rect x="456" y="3372" width="317" height="36" class="or"/>
<g class="gr"><rect x="456" y="3227" width="317" height="181"/>
<line x1="456" y1="3263" x2="773" y2="3263"/><line x1="456" y1="3300" x2="773" y2="3300"/><line x1="456" y1="3336" x2="773" y2="3336"/><line x1="456" y1="3372" x2="773" y2="3372"/>
<line x1="547" y1="3227" x2="547" y2="3408"/><line x1="623" y1="3263" x2="623" y2="3408"/><line x1="697" y1="3263" x2="697" y2="3408"/></g>
<g class="t" text-anchor="middle" style="font-size:11px">
<text x="501" y="3249" class="c" style="font-size:11px">产品型号</text><text x="584" y="3249">J28A—nT</text><text x="660" y="3249">J28A—nZ</text><text x="735" y="3249">J28A—nZⅡ</text>
<text x="501" y="3285">接触件数目</text><text x="584" y="3285">L</text><text x="660" y="3285">e</text><text x="735" y="3285">a</text>
<text x="501" y="3322">13</text><text x="584" y="3322">45.8</text><text x="660" y="3322">40</text><text x="735" y="3322">12</text>
<text x="501" y="3358">21</text><text x="584" y="3358">65.8</text><text x="660" y="3358">60</text><text x="735" y="3358">20</text>
<text x="501" y="3394">31</text><text x="584" y="3394">90.8</text><text x="660" y="3394">85</text><text x="735" y="3394">30</text>
</g>

<!-- J28C -->
<text x="27" y="3453" class="g">J28C系列矩形电连接器</text>
<g>
<rect x="78" y="3542" width="112" height="140" class="L"/>
<line x1="118" y1="3542" x2="118" y2="3682" class="L"/>
<path d="M190,3575 H208 V3632 H190" class="L"/>
<path d="M78,3562 H64 V3580 H78 M78,3595 H64 V3625 H78 M78,3640 H64 V3662 H78" class="L"/>
<path d="M36,3572 H64 M36,3652 H64" class="L"/><circle cx="48" cy="3572" r="3" class="L"/><circle cx="48" cy="3652" r="3" class="L"/>
<line x1="228" y1="3542" x2="228" y2="3682" class="D"/><text x="224" y="3625" class="m" transform="rotate(-90 224 3625)">30XB</text>
<text x="84" y="3712" class="m">10.5</text><text x="154" y="3712" class="m">32</text><text x="196" y="3694" class="m">5</text>
<line x1="78" y1="3718" x2="190" y2="3718" class="D"/>
<line x1="38" y1="3742" x2="208" y2="3742" class="D"/><text x="118" y="3737" class="m">53</text>
<rect x="296" y="3529" width="56" height="188" class="L"/>
<line x1="296" y1="3548" x2="352" y2="3548" class="L"/><line x1="296" y1="3698" x2="352" y2="3698" class="L"/>
<circle cx="314" cy="3539" r="3.5" class="L"/><circle cx="333" cy="3539" r="3.5" class="L"/>
<circle cx="314" cy="3707" r="3.5" class="L"/><circle cx="333" cy="3707" r="3.5" class="L"/>
<line x1="324" y1="3548" x2="324" y2="3698" class="K"/>
<rect x="290" y="3615" width="68" height="12" fill="#fff"/>
<path d="M296,3615 Q324,3611 352,3615 M296,3627 Q324,3623 352,3627" class="L"/>
<line x1="262" y1="3529" x2="262" y2="3717" class="D"/><text x="256" y="3628" class="m" transform="rotate(-90 256 3628)">B</text>
<line x1="283" y1="3545" x2="283" y2="3705" class="D"/><text x="278" y="3628" class="m" transform="rotate(-90 278 3628)">A</text>
<line x1="304" y1="3500" x2="342" y2="3500" class="D"/><text x="318" y="3494" class="m">C</text>
<line x1="308" y1="3514" x2="338" y2="3514" class="D"/><text x="316" y="3511" class="m">10</text>
<line x1="296" y1="3743" x2="352" y2="3743" class="D"/><text x="318" y="3738" class="m">D</text>
<text x="372" y="3680" class="m" transform="rotate(-90 372 3680)">4-ø3.5</text>
</g>
<rect x="462" y="3502" width="310" height="34" class="bl"/>
<rect x="462" y="3571" width="310" height="34" class="or"/>
<rect x="462" y="3640" width="310" height="35" class="or"/>
<rect x="462" y="3710" width="310" height="35" class="or"/>
<g class="gr"><rect x="462" y="3502" width="310" height="243"/>
<line x1="462" y1="3536" x2="772" y2="3536"/><line x1="462" y1="3571" x2="772" y2="3571"/><line x1="462" y1="3605" x2="772" y2="3605"/><line x1="462" y1="3640" x2="772" y2="3640"/><line x1="462" y1="3675" x2="772" y2="3675"/><line x1="462" y1="3710" x2="772" y2="3710"/>
<line x1="565" y1="3502" x2="565" y2="3745"/><line x1="616" y1="3502" x2="616" y2="3745"/><line x1="668" y1="3502" x2="668" y2="3745"/><line x1="720" y1="3502" x2="720" y2="3745"/></g>
<g class="t" text-anchor="middle" style="font-size:11px">
<text x="513" y="3523" class="c" style="font-size:11px">型号</text><text x="590" y="3523">A</text><text x="642" y="3523">B</text><text x="694" y="3523">C</text><text x="746" y="3523">D</text>
<text x="513" y="3557">J28C—8T</text><text x="590" y="3557">90</text><text x="642" y="3557">100</text><text x="694" y="3557">18</text><text x="746" y="3557">30</text>
<text x="513" y="3592">J28C—8Z(ZⅡ)</text><text x="590" y="3592">90</text><text x="642" y="3592">100</text><text x="694" y="3592">18</text><text x="746" y="3592">30</text>
<text x="513" y="3626">J28C—10T</text><text x="590" y="3626">115</text><text x="642" y="3626">125</text><text x="694" y="3626">20</text><text x="746" y="3626">30</text>
<text x="513" y="3661">J28C—10Z</text><text x="590" y="3661">115</text><text x="642" y="3661">125</text><text x="694" y="3661">20</text><text x="746" y="3661">30</text>
<text x="513" y="3696">J28C—10DT</text><text x="590" y="3696">134</text><text x="642" y="3696">140</text><text x="694" y="3696">20</text><text x="746" y="3696">34</text>
<text x="513" y="3731">J28C—10DZ</text><text x="590" y="3731">115</text><text x="642" y="3731">125</text><text x="694" y="3731">20</text><text x="746" y="3731">34</text>
</g>

<!-- J28D -->
<text x="31" y="3808" class="g">J28D-15T/Z矩形电连接器</text>
<g>
<line x1="274" y1="3864" x2="532" y2="3864" class="D"/><text x="392" y="3858" class="m">158</text>
<rect x="295" y="3877" width="99" height="28" class="L"/><rect x="415" y="3877" width="105" height="28" class="L"/>
<g stroke="#555" stroke-width="1" fill="none">
<circle cx="305" cy="3887" r="4"/><circle cx="328" cy="3887" r="4"/><circle cx="356" cy="3887" r="4"/><circle cx="380" cy="3887" r="4"/>
<circle cx="427" cy="3887" r="4"/><circle cx="452" cy="3887" r="4"/><circle cx="478" cy="3887" r="4"/><circle cx="502" cy="3887" r="4"/></g>
<path d="M285,3905 H395 V3960 H285 Z M413,3905 H525 V3960 H413 Z" class="L"/>
<path d="M285,3925 H305 V3912 H395 M413,3912 H505 V3925 H525" class="L"/>
<rect x="265" y="3960" width="290" height="20" class="L"/>
<path d="M285,3980 v18 h20 v-10 h18 v10 h20 v-10 h18 v10 h20 v-18 M413,3980 v18 h20 v-10 h18 v10 h20 v-10 h18 v10 h20 v-18" class="L"/>
<rect x="393" y="3870" width="22" height="130" fill="#fff"/>
<line x1="264" y1="4029" x2="541" y2="4029" class="D"/><text x="380" y="4024" class="m">166x15</text>
<text x="290" y="4010" class="m">4-ø3.5</text>
<text x="556" y="3900" class="m" transform="rotate(-90 556 3900)">10</text>
<text x="556" y="3940" class="m" transform="rotate(-90 556 3940)">21</text>
<text x="570" y="4020" class="m" transform="rotate(-90 570 4020)">17.5</text>
<text x="250" y="3910" class="m" transform="rotate(-90 250 3910)">3.3</text>
<text x="236" y="3975" class="m" transform="rotate(-90 236 3975)">5.5</text>
</g>

<!-- J28G -->
<text x="31" y="4095" class="g">J28G-50TJ/ZK矩形电连接器</text>
<g>
<line x1="147" y1="4147" x2="580" y2="4147" class="D"/><text x="357" y="4142" class="m">77</text>
<line x1="162" y1="4168" x2="565" y2="4168" class="D"/><text x="357" y="4162" class="m">72</text>
<rect x="182" y="4183" width="370" height="48" class="L"/>
<line x1="195" y1="4206" x2="540" y2="4206" stroke="#555" stroke-width="30" stroke-dasharray="2.5 11.6"/>
<line x1="202" y1="4218" x2="540" y2="4218" stroke="#666" stroke-width="18" stroke-dasharray="2 12.1"/>
<rect x="147" y="4178" width="35" height="65" class="L"/><circle cx="162" cy="4211" r="6" class="L"/>
<rect x="552" y="4178" width="28" height="65" class="L"/><circle cx="565" cy="4211" r="6" class="L"/>
<rect x="147" y="4243" width="433" height="93" class="L"/>
<line x1="172" y1="4303" x2="555" y2="4303" class="L"/>
<rect x="150" y="4260" width="22" height="57" class="L"/><rect x="555" y="4260" width="22" height="57" class="L"/>
<text x="184" y="4270" class="m">a25</text><text x="526" y="4270" class="m">a1</text>
<text x="182" y="4328" class="m">a25</text><text x="526" y="4328" class="m">a1</text>
<rect x="191" y="4336" width="7" height="20" class="L"/><rect x="528" y="4336" width="7" height="20" class="L"/>
<rect x="148" y="4336" width="27" height="10" class="L"/><rect x="152" y="4346" width="19" height="14" class="L"/>
<rect x="553" y="4336" width="27" height="10" class="L"/><rect x="557" y="4346" width="19" height="14" class="L"/>
<line x1="160" y1="4372" x2="565" y2="4372" class="D"/><text x="352" y="4368" class="m">72.6</text>
<line x1="364" y1="4170" x2="364" y2="4375" class="K"/>
<rect x="631" y="4244" width="35" height="93" class="L"/>
<path d="M636,4244 V4185 H645 V4200 H652 V4215 H660 V4244" class="L"/>
<path d="M609,4196 H640 M609,4214 H640" class="L"/>
<rect x="636" y="4337" width="25" height="12" class="L"/><rect x="641" y="4349" width="15" height="8" class="L"/>
<text x="612" y="4170" class="m">(4)</text><text x="607" y="4242" class="m">1</text>
<line x1="735" y1="4183" x2="735" y2="4367" class="D"/><text x="728" y="4285" class="m" transform="rotate(-90 728 4285)">(34.7)</text>
<text x="696" y="4362" class="m" transform="rotate(-90 696 4362)">(7)</text>
<line x1="631" y1="4385" x2="666" y2="4385" class="D"/><text x="640" y="4380" class="m">7.2</text>
</g>
<text x="426" y="4440" text-anchor="middle" style="font-size:15px;fill:#333">插头建议安装开口尺寸</text>
<g>
<line x1="265" y1="4501" x2="573" y2="4501" stroke="#555" stroke-width="7" stroke-linecap="round" stroke-dasharray="0 12.8"/>
<line x1="265" y1="4501" x2="573" y2="4501" stroke="#fff" stroke-width="5" stroke-linecap="round" stroke-dasharray="0 12.8"/>
<line x1="258" y1="4515" x2="566" y2="4515" stroke="#555" stroke-width="7" stroke-linecap="round" stroke-dasharray="0 12.8"/>
<line x1="258" y1="4515" x2="566" y2="4515" stroke="#fff" stroke-width="5" stroke-linecap="round" stroke-dasharray="0 12.8"/>
<circle cx="231" cy="4523" r="8" class="L"/><circle cx="598" cy="4523" r="8" class="L"/>
<line x1="213" y1="4536" x2="610" y2="4536" class="L"/>
<line x1="428" y1="4480" x2="428" y2="4545" class="E"/>
<line x1="265" y1="4475" x2="572" y2="4475" class="D"/><text x="382" y="4470" class="m">24X2.54=60.96</text>
<text x="626" y="4447" class="m">50-ø1</text><text x="628" y="4478" class="m">2-ø2.6</text>
<line x1="572" y1="4501" x2="630" y2="4450" class="E"/><line x1="598" y1="4523" x2="630" y2="4480" class="E"/>
<text x="280" y="4553" class="m">1.27</text><text x="444" y="4553" class="m">0.635</text>
<line x1="258" y1="4587" x2="566" y2="4587" class="D"/><text x="376" y="4583" class="m">24X2.54=60.96</text>
<line x1="231" y1="4606" x2="598" y2="4606" class="D"/><text x="398" y="4602" class="m">72±0.1</text>
<text x="244" y="4490" class="m" transform="rotate(-90 244 4490)">2.2</text>
<text x="216" y="4522" class="m" transform="rotate(-90 216 4522)">2.3</text>
<text x="203" y="4570" class="m" transform="rotate(-90 203 4570)">≤5.5</text>
</g>
<text x="414" y="4676" text-anchor="middle" style="font-size:15px;fill:#333">插座建议安装开口尺寸</text>
<g>
<rect x="246" y="4700" width="354" height="22" class="L"/>
<circle cx="229" cy="4711" r="9" class="L"/><circle cx="613" cy="4711" r="9" class="L"/>
<line x1="215" y1="4711" x2="628" y2="4711" class="K"/><line x1="423" y1="4690" x2="423" y2="4735" class="E"/>
<text x="250" y="4685" class="m">2-ø4.4</text>
<line x1="246" y1="4755" x2="600" y2="4755" class="D"/><text x="416" y="4751" class="m">66</text>
<line x1="229" y1="4776" x2="613" y2="4776" class="D"/><text x="400" y="4772" class="m">72.6±0.5</text>
<text x="644" y="4716" class="m" transform="rotate(-90 644 4716)">5</text>
</g>
</svg>
</body></html>
